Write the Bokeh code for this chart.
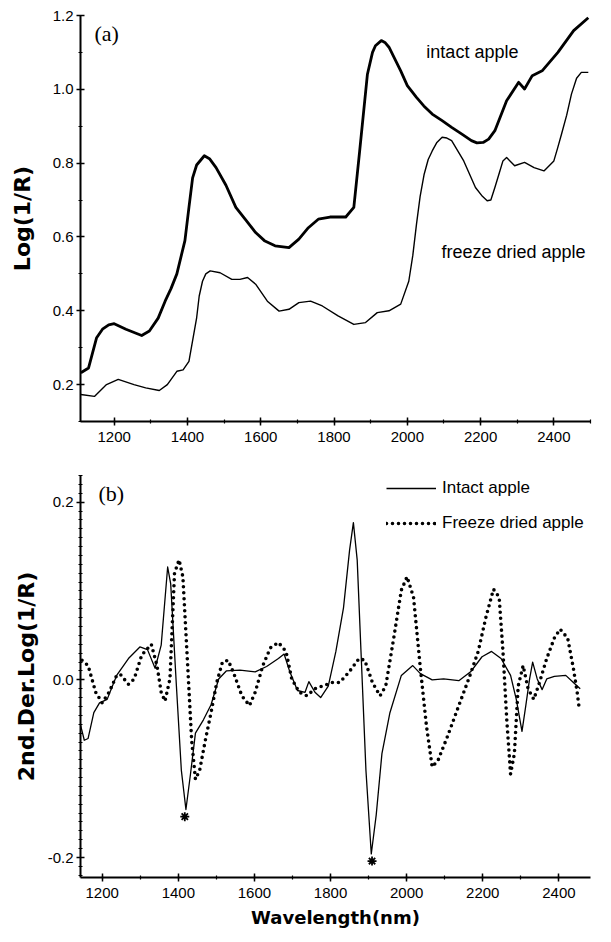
from bokeh.plotting import figure
from bokeh.layouts import column
from bokeh.models import Range1d, FixedTicker, PrintfTickFormatter, Label, Legend, LegendItem
from bokeh.embed import file_html
from bokeh.resources import INLINE

# ---------------- data: panel (a) Log(1/R) spectra ----------------
wl_a_intact = [1109, 1130, 1152, 1168, 1185, 1200, 1232, 1275, 1296, 1320, 1339, 1355, 1371,
               1393, 1404, 1414, 1425, 1446, 1460, 1478, 1505, 1532, 1560, 1586, 1610, 1639,
               1677, 1704, 1730, 1757, 1789, 1832, 1854, 1870, 1891, 1905, 1913, 1929, 1940,
               1950, 1982, 2000, 2025, 2045, 2068, 2095, 2121, 2150, 2175, 2190, 2207, 2222,
               2239, 2271, 2304, 2320, 2341, 2368, 2411, 2454, 2494]
a_intact = [0.232, 0.245, 0.327, 0.350, 0.362, 0.365, 0.350, 0.333, 0.345, 0.380, 0.426, 0.460,
            0.500, 0.590, 0.680, 0.760, 0.795, 0.820, 0.812, 0.788, 0.740, 0.680, 0.645, 0.612,
            0.590, 0.576, 0.571, 0.594, 0.625, 0.648, 0.654, 0.654, 0.680, 0.833, 1.040, 1.100,
            1.118, 1.132, 1.126, 1.114, 1.050, 1.010, 0.978, 0.955, 0.933, 0.915, 0.897, 0.878,
            0.861, 0.855, 0.856, 0.865, 0.888, 0.969, 1.019, 1.001, 1.037, 1.050, 1.100, 1.159,
            1.194]

wl_a_freeze = [1109, 1146, 1179, 1211, 1254, 1286, 1323, 1345, 1371, 1388, 1404, 1425, 1432,
               1441, 1450, 1462, 1489, 1521, 1543, 1564, 1586, 1618, 1650, 1677, 1704, 1736,
               1768, 1811, 1854, 1886, 1918, 1950, 1982, 2004, 2015, 2025, 2035, 2046, 2057,
               2068, 2080, 2095, 2108, 2121, 2154, 2186, 2205, 2218, 2228, 2239, 2250, 2261,
               2271, 2293, 2320, 2346, 2373, 2400, 2410, 2421, 2435, 2448, 2462, 2475, 2494]
a_freeze = [0.173, 0.168, 0.200, 0.214, 0.200, 0.191, 0.184, 0.200, 0.236, 0.240, 0.263, 0.381,
            0.440, 0.480, 0.500, 0.508, 0.503, 0.485, 0.485, 0.490, 0.472, 0.426, 0.399, 0.404,
            0.422, 0.426, 0.413, 0.386, 0.363, 0.368, 0.395, 0.400, 0.418, 0.480, 0.550, 0.634,
            0.710, 0.770, 0.810, 0.833, 0.855, 0.870, 0.868, 0.861, 0.806, 0.734, 0.710, 0.698,
            0.700, 0.734, 0.770, 0.806, 0.815, 0.793, 0.802, 0.788, 0.779, 0.806, 0.840, 0.879,
            0.930, 0.987, 1.030, 1.046, 1.046]

# ---------------- data: panel (b) 2nd derivative spectra ----------------
wl_b_intact = [1142, 1153, 1163, 1178, 1193, 1213, 1238, 1269, 1299, 1319, 1339, 1355, 1372,
               1380, 1395, 1408, 1420, 1432, 1445, 1466, 1486, 1506, 1526, 1562, 1602, 1632,
               1663, 1678, 1693, 1713, 1733, 1743, 1759, 1774, 1794, 1814, 1834, 1850, 1860,
               1870, 1880, 1893, 1907, 1920, 1935, 1956, 1986, 2016, 2036, 2067, 2097, 2137,
               2168, 2198, 2223, 2248, 2273, 2288, 2303, 2313, 2323, 2331, 2343, 2356, 2368,
               2388, 2418, 2438, 2456]
b_intact = [-0.049, -0.068, -0.066, -0.037, -0.026, -0.022, 0.005, 0.024, 0.037, 0.034, 0.013,
            0.039, 0.127, 0.108, -0.007, -0.102, -0.146, -0.106, -0.060, -0.045, -0.028, 0.001,
            0.010, 0.011, 0.009, 0.015, 0.024, 0.029, 0.009, -0.012, -0.014, -0.002, -0.014,
            -0.020, -0.007, 0.032, 0.081, 0.146, 0.177, 0.135, 0.032, -0.102, -0.196, -0.152,
            -0.083, -0.037, 0.005, 0.016, 0.007, 0.000, 0.001, -0.001, 0.009, 0.026, 0.032,
            0.024, 0.005, -0.022, -0.058, -0.029, 0.001, 0.020, 0.001, -0.011, 0.001, 0.004,
            0.005, -0.003, -0.010]

wl_b_freeze = [1147, 1163, 1183, 1200, 1218, 1238, 1248, 1269, 1284, 1304, 1329, 1344, 1355,
               1365, 1378, 1390, 1402, 1412, 1425, 1435, 1445, 1456, 1471, 1486, 1501, 1516,
               1531, 1546, 1567, 1587, 1602, 1622, 1642, 1663, 1683, 1698, 1718, 1738, 1759,
               1779, 1804, 1824, 1849, 1875, 1890, 1910, 1930, 1945, 1966, 1986, 2001, 2018,
               2036, 2052, 2067, 2082, 2107, 2137, 2163, 2188, 2208, 2228, 2243, 2253, 2263,
               2273, 2283, 2293, 2306, 2319, 2334, 2349, 2368, 2388, 2403, 2423, 2438, 2448,
               2453]
b_freeze = [0.022, 0.016, -0.014, -0.026, -0.014, 0.005, 0.006, -0.005, 0.001, 0.028, 0.040,
            0.016, -0.014, -0.024, 0.001, 0.120, 0.135, 0.116, 0.013, -0.068, -0.112, -0.102,
            -0.068, -0.037, -0.003, 0.020, 0.022, 0.007, -0.018, -0.029, -0.014, 0.016, 0.036,
            0.042, 0.032, 0.001, -0.014, -0.018, -0.010, -0.007, -0.003, -0.003, 0.009, 0.024,
            0.022, -0.003, -0.018, -0.007, 0.047, 0.101, 0.116, 0.093, 0.013, -0.052, -0.098,
            -0.091, -0.064, -0.029, 0.001, 0.032, 0.070, 0.102, 0.093, 0.032, -0.045, -0.106,
            -0.083, -0.007, 0.016, -0.010, -0.022, -0.003, 0.024, 0.047, 0.057, 0.047, 0.013,
            -0.014, -0.031]

# asterisk marks under the two main water bands
star_wl = [1417, 1909]
star_val = [-0.154, -0.204]

# ticks
x_major = [1200, 1400, 1600, 1800, 2000, 2200, 2400]
x_minor = [1100, 1200, 1300, 1400, 1500, 1600, 1700, 1800, 1900, 2000, 2100, 2200, 2300, 2400, 2500]
ya_major = [0.2, 0.4, 0.6, 0.8, 1.0, 1.2]
ya_minor = [0.1, 0.2, 0.3, 0.4, 0.5, 0.6, 0.7, 0.8, 0.9, 1.0, 1.1, 1.2]
yb_major = [-0.2, 0.0, 0.2]
yb_minor = [round(-0.22 + 0.01 * i, 2) for i in range(46)]

TICK_FONT = "Liberation Sans"
LABEL_FONT = "DejaVu Sans"


def style_axes(p, xmaj, xmin, ymaj, ymin):
    p.xaxis.ticker = FixedTicker(ticks=xmaj, minor_ticks=xmin)
    p.yaxis.ticker = FixedTicker(ticks=ymaj, minor_ticks=ymin)
    p.yaxis.formatter = PrintfTickFormatter(format="%.1f")
    for ax in (p.xaxis, p.yaxis):
        ax.axis_line_width = 2
        ax.axis_line_color = "black"
        ax.major_tick_line_width = 1.5
        ax.major_tick_line_color = "black"
        ax.minor_tick_line_color = "black"
        ax.minor_tick_line_width = 1.2
        ax.major_tick_in = 4
        ax.major_tick_out = 4
        ax.minor_tick_in = 2
        ax.minor_tick_out = 2
        ax.major_label_text_font = TICK_FONT
        ax.major_label_text_font_size = "15px"
        ax.major_label_text_color = "black"
        ax.axis_label_text_font = LABEL_FONT
        ax.axis_label_text_font_style = "bold"
        ax.axis_label_text_color = "black"
    p.yaxis.major_label_standoff = 3
    p.xaxis.major_label_standoff = 6
    p.xgrid.visible = False
    p.ygrid.visible = False
    p.outline_line_color = None


# ---------------- panel (a) ----------------
p1 = figure(width=603, height=460, output_backend="svg", toolbar_location=None,
            x_range=Range1d(1108, 2500), y_range=Range1d(0.1, 1.2),
            min_border_left=80, min_border_right=13, min_border_top=15, min_border_bottom=39)
style_axes(p1, x_major, x_minor, ya_major, ya_minor)
p1.yaxis.axis_label = "Log(1/R)"
p1.yaxis.axis_label_text_font_size = "22px"
p1.yaxis.axis_label_standoff = 15

p1.line(wl_a_intact, a_intact, line_color="black", line_width=2.8, line_join="round")
p1.line(wl_a_freeze, a_freeze, line_color="black", line_width=1.4, line_join="round")

p1.add_layout(Label(x=1146, y=1.151, text="(a)", text_font="Liberation Serif",
                    text_font_size="22px", text_baseline="middle", text_color="black"))
p1.add_layout(Label(x=2052, y=1.100, text="intact apple", text_font=TICK_FONT,
                    text_font_size="18px", text_baseline="middle", text_color="black"))
p1.add_layout(Label(x=2093, y=0.558, text="freeze dried apple", text_font=TICK_FONT,
                    text_font_size="18px", text_baseline="middle", text_color="black"))

# ---------------- panel (b) ----------------
p2 = figure(width=603, height=474, output_backend="svg", toolbar_location=None,
            x_range=Range1d(1143, 2483), y_range=Range1d(-0.2225, 0.230),
            min_border_left=80, min_border_right=5, min_border_top=15, min_border_bottom=57)
style_axes(p2, x_major, x_minor, yb_major, yb_minor)
p2.yaxis.axis_label = "2nd.Der.Log(1/R)"
p2.yaxis.axis_label_text_font_size = "22px"
p2.yaxis.axis_label_standoff = 6
p2.xaxis.axis_label = "Wavelength(nm)"
p2.xaxis.axis_label_text_font_size = "18px"
p2.xaxis.axis_label_standoff = 6

r_int = p2.line(wl_b_intact, b_intact, line_color="black", line_width=1.3, line_join="round")
r_frz = p2.line(wl_b_freeze, b_freeze, line_color="black", line_width=3.6,
                line_dash="0 6", line_cap="round", line_join="round")
p2.scatter(star_wl, star_val, marker="asterisk", size=9, line_color="black", line_width=1.8)

p2.add_layout(Label(x=1190, y=0.2097, text="(b)", text_font="Liberation Serif",
                    text_font_size="22px", text_baseline="middle", text_color="black"))

legend = Legend(items=[LegendItem(label="Intact apple", renderers=[r_int]),
                       LegendItem(label="Freeze dried apple", renderers=[r_frz])],
                location=(306, 344), orientation="vertical",
                glyph_width=50, glyph_height=20, label_standoff=6, spacing=15,
                padding=0, margin=0, border_line_color=None, background_fill_alpha=0,
                label_text_font=TICK_FONT, label_text_font_size="17px",
                label_text_color="black")
p2.add_layout(legend, "center")

layout = column(p1, p2, spacing=0)
open("out.html", "w").write(file_html(layout, INLINE))
